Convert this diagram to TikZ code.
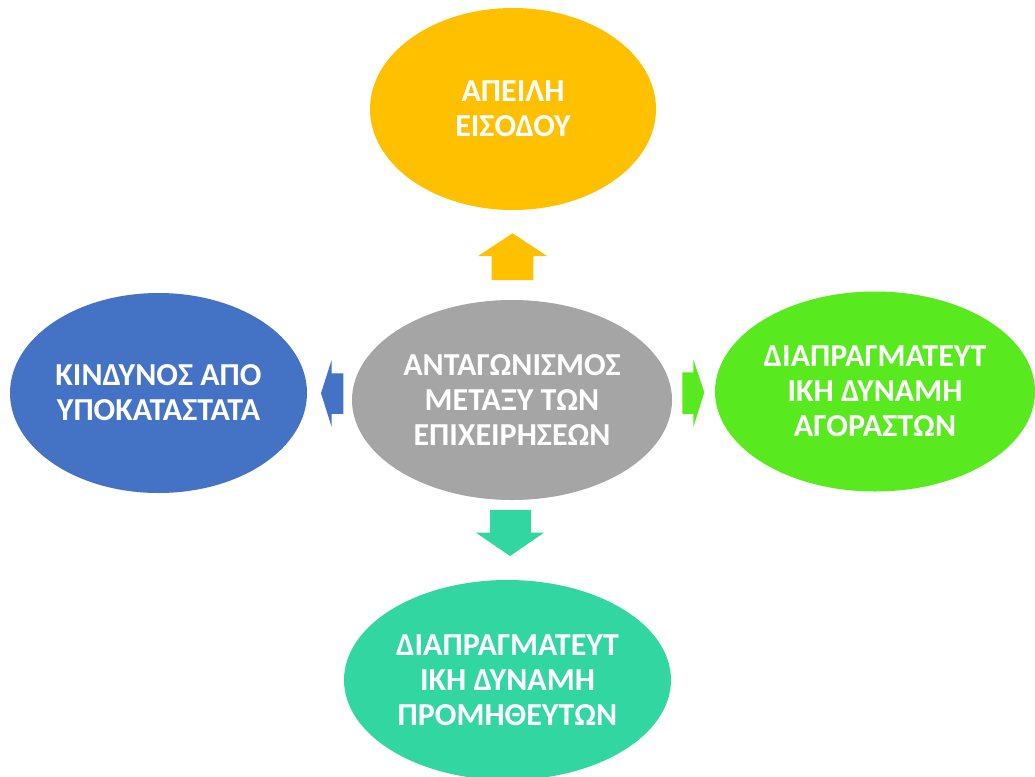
\documentclass[tikz,border=0pt]{standalone}
\usepackage{fontspec}
\setmainfont{Carlito}
\usetikzlibrary{shapes.geometric}
\definecolor{cyellow}{RGB}{255,192,0}
\definecolor{cblue}{RGB}{68,114,196}
\definecolor{cgray}{RGB}{165,165,165}
\definecolor{cgreen}{RGB}{88,234,30}
\definecolor{cteal}{RGB}{50,214,160}
\tikzset{
  force/.style={ellipse, inner sep=0pt, text=white, align=center,
    font=\fontsize{32}{35}\selectfont\bfseries},
}
\begin{document}
\begin{tikzpicture}[x=1pt,y=-1pt]
\useasboundingbox (0,0) rectangle (1035,776);
\fill[white] (0,0) rectangle (1035,776);
\node[force, fill=cyellow, minimum width=286pt, minimum height=202pt] (top) at (513,109) {ΑΠΕΙΛΗ\\ΕΙΣΟΔΟΥ};
\node[force, fill=cblue, minimum width=297pt, minimum height=200pt] (left) at (158.5,393) {ΚΙΝΔΥΝΟΣ ΑΠΟ\\ΥΠΟΚΑΤΑΣΤΑΤΑ};
\node[force, fill=cgray, minimum width=320pt, minimum height=200pt] (mid) at (512,400) {ΑΝΤΑΓΩΝΙΣΜΟΣ\\ΜΕΤΑΞΥ ΤΩΝ\\ΕΠΙΧΕΙΡΗΣΕΩΝ};
\node[force, fill=cgreen, minimum width=320pt, minimum height=200pt] (right) at (875,391.5) {ΔΙΑΠΡΑΓΜΑΤΕΥΤ\\ΙΚΗ ΔΥΝΑΜΗ\\ΑΓΟΡΑΣΤΩΝ};
\node[force, fill=cteal, minimum width=327pt, minimum height=200pt] (bottom) at (507.5,680) {ΔΙΑΠΡΑΓΜΑΤΕΥΤ\\ΙΚΗ ΔΥΝΑΜΗ\\ΠΡΟΜΗΘΕΥΤΩΝ};
% arrows
\coordinate (aup) at (512.5,280);
\fill[cyellow] (aup) ++(-20.8,0) -- ++(0,-24) -- ++(-13.5,0) -- ++(34.3,-22.7) -- ++(34.5,22.7) -- ++(-13.7,0) -- ++(0,24) -- cycle;
\coordinate (adown) at (510.5,510);
\fill[cteal] (adown) ++(-20.5,0) -- ++(0,22.7) -- ++(-14,0) -- ++(34,23.3) -- ++(34,-23.3) -- ++(-13,0) -- ++(0,-22.7) -- cycle;
\coordinate (aleft) at (343.3,393.5);
\fill[cblue] (aleft) ++(0,-20.2) -- ++(-11.6,0) -- ++(0,-13.5) -- ++(-10.7,33.4) -- ++(10.7,33.9) -- ++(0,-13.3) -- ++(11.6,0) -- cycle;
\coordinate (aright) at (682.3,393);
\fill[cgreen] (aright) ++(0,-20.7) -- ++(11,0) -- ++(0,-13) -- ++(11,33) -- ++(-11,35) -- ++(0,-13.3) -- ++(-11,0) -- cycle;
\end{tikzpicture}
\end{document}
